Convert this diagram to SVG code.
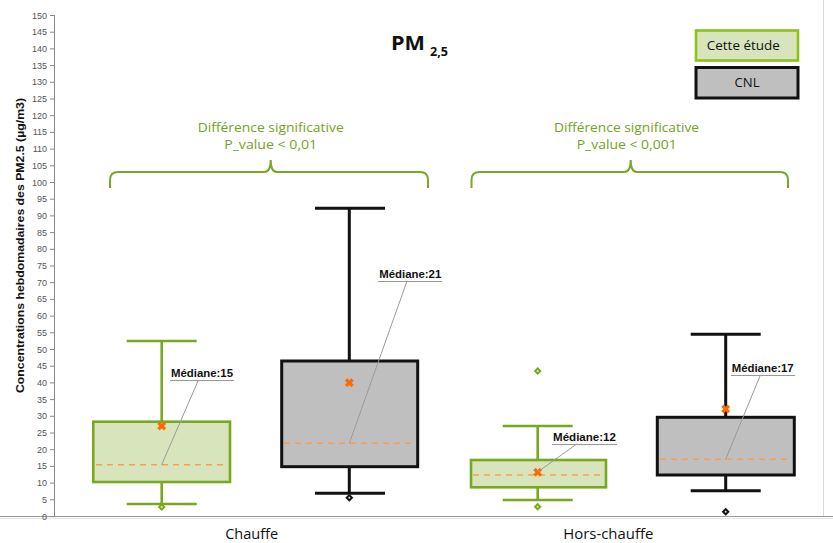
<svg xmlns="http://www.w3.org/2000/svg" width="833" height="543" viewBox="0 0 833 543">
  <style>
    .tick { font-family: "Liberation Sans", Arial, sans-serif; font-size: 9px; fill: #555; text-anchor: end; }
    .tickmark { stroke: #888; stroke-width: 1; }
    .green { stroke: #78a820; stroke-width: 2.6; fill: none; }
    .green-box { stroke: #78a820; stroke-width: 2.6; fill: #d8e4bc; }
    .black { stroke: #111; stroke-width: 3; fill: none; }
    .black-box { stroke: #111; stroke-width: 3; fill: #bfbfbf; }
    .median { stroke: #f5a055; stroke-width: 1.4; stroke-dasharray: 6 5; fill: none; }
    .leader { stroke: #9a9a9a; stroke-width: 1; fill: none; }
    .mlabel { font-family: "Liberation Sans", Arial, sans-serif; font-size: 11px; font-weight: bold; fill: #111; }
    .ul { stroke: #999; stroke-width: 1.2; }
    .sig { font-family: "Open Sans", "Liberation Sans", sans-serif; font-size: 13.5px; fill: #74a224; text-anchor: middle; }
    .brace { stroke: #79a828; stroke-width: 2; fill: none; }
    .cat { font-family: "Open Sans", "Liberation Sans", sans-serif; font-size: 14px; fill: #111; text-anchor: middle; }
    .leg { font-family: "Open Sans", "Liberation Sans", sans-serif; font-size: 13px; fill: #111; text-anchor: middle; }
  </style>
  <defs>
    <path id="mean" d="M-4.5,-2 L-2,-4.5 L0,-2.2 L2,-4.5 L4.5,-2 L2.2,0 L4.5,2 L2,4.5 L0,2.2 L-2,4.5 L-4.5,2 L-2.2,0 Z" fill="#ff6a00"/>
    <g id="out-green">
      <path d="M0,-4 L4,0 L0,4 L-4,0 Z" fill="#78a820"/>
      <circle r="1" fill="#dfeac4"/>
    </g>
    <g id="out-black">
      <path d="M0,-4 L4,0 L0,4 L-4,0 Z" fill="#111"/>
      <circle r="1" fill="#ddd"/>
    </g>
  </defs>

  <rect width="833" height="543" fill="#fff"/>

  <!-- axes and plot frame -->
  <g id="axes">
    <line x1="823.5" y1="0" x2="823.5" y2="516" stroke="#d9d9d9" stroke-width="1"/>
    <line x1="54.5" y1="15" x2="54.5" y2="516" stroke="#888" stroke-width="1"/>
    <line x1="0" y1="516.5" x2="833" y2="516.5" stroke="#999" stroke-width="1.2"/>
    <line x1="0" y1="518.5" x2="833" y2="518.5" stroke="#e6e6e6" stroke-width="1"/>
    <g class="tickmark">
      <line x1="50" y1="15.5" x2="54" y2="15.5"/><line x1="50" y1="32.2" x2="54" y2="32.2"/>
      <line x1="50" y1="48.9" x2="54" y2="48.9"/><line x1="50" y1="65.6" x2="54" y2="65.6"/>
      <line x1="50" y1="82.3" x2="54" y2="82.3"/><line x1="50" y1="99" x2="54" y2="99"/>
      <line x1="50" y1="115.7" x2="54" y2="115.7"/><line x1="50" y1="132.4" x2="54" y2="132.4"/>
      <line x1="50" y1="149.1" x2="54" y2="149.1"/><line x1="50" y1="165.8" x2="54" y2="165.8"/>
      <line x1="50" y1="182.5" x2="54" y2="182.5"/><line x1="50" y1="199.2" x2="54" y2="199.2"/>
      <line x1="50" y1="215.9" x2="54" y2="215.9"/><line x1="50" y1="232.6" x2="54" y2="232.6"/>
      <line x1="50" y1="249.3" x2="54" y2="249.3"/><line x1="50" y1="266" x2="54" y2="266"/>
      <line x1="50" y1="282.7" x2="54" y2="282.7"/><line x1="50" y1="299.4" x2="54" y2="299.4"/>
      <line x1="50" y1="316.1" x2="54" y2="316.1"/><line x1="50" y1="332.8" x2="54" y2="332.8"/>
      <line x1="50" y1="349.5" x2="54" y2="349.5"/><line x1="50" y1="366.2" x2="54" y2="366.2"/>
      <line x1="50" y1="382.9" x2="54" y2="382.9"/><line x1="50" y1="399.6" x2="54" y2="399.6"/>
      <line x1="50" y1="416.3" x2="54" y2="416.3"/><line x1="50" y1="433" x2="54" y2="433"/>
      <line x1="50" y1="449.7" x2="54" y2="449.7"/><line x1="50" y1="466.4" x2="54" y2="466.4"/>
      <line x1="50" y1="483.1" x2="54" y2="483.1"/><line x1="50" y1="499.8" x2="54" y2="499.8"/>
      <line x1="50" y1="516.5" x2="54" y2="516.5"/>
    </g>
    <g class="tick">
      <text x="47" y="18.5">150</text><text x="47" y="35.2">145</text>
      <text x="47" y="51.9">140</text><text x="47" y="68.6">135</text>
      <text x="47" y="85.3">130</text><text x="47" y="102">125</text>
      <text x="47" y="118.7">120</text><text x="47" y="135.4">115</text>
      <text x="47" y="152.1">110</text><text x="47" y="168.8">105</text>
      <text x="47" y="185.5">100</text><text x="47" y="202.2">95</text>
      <text x="47" y="218.9">90</text><text x="47" y="235.6">85</text>
      <text x="47" y="252.3">80</text><text x="47" y="269">75</text>
      <text x="47" y="285.7">70</text><text x="47" y="302.4">65</text>
      <text x="47" y="319.1">60</text><text x="47" y="335.8">55</text>
      <text x="47" y="352.5">50</text><text x="47" y="369.2">45</text>
      <text x="47" y="385.9">40</text><text x="47" y="402.6">35</text>
      <text x="47" y="419.3">30</text><text x="47" y="436">25</text>
      <text x="47" y="452.7">20</text><text x="47" y="469.4">15</text>
      <text x="47" y="486.1">10</text><text x="47" y="502.8">5</text>
      <text x="47" y="519.5">0</text>
    </g>
    <text transform="translate(24,245.5) rotate(-90)" text-anchor="middle" font-family="Liberation Sans, Arial, sans-serif" font-size="11" font-weight="bold" fill="#111" textLength="295" lengthAdjust="spacingAndGlyphs">Concentrations hebdomadaires des PM2.5 (µg/m3)</text>
    <text class="cat" x="251.7" y="539" textLength="53" lengthAdjust="spacingAndGlyphs">Chauffe</text>
    <text class="cat" x="608.3" y="539" textLength="90" lengthAdjust="spacingAndGlyphs">Hors-chauffe</text>
  </g>

  <!-- title -->
  <g id="title" font-family="Open Sans, Liberation Sans, sans-serif" font-weight="bold" fill="#111">
    <text x="391" y="50" font-size="20" textLength="34" lengthAdjust="spacingAndGlyphs">PM</text>
    <text x="430" y="56" font-size="12.5" textLength="18" lengthAdjust="spacingAndGlyphs">2,5</text>
  </g>

  <!-- legend -->
  <g id="legend">
    <g id="legend-etude">
      <rect x="696" y="30.5" width="102" height="30" fill="#d8e4bc" stroke="#8cc21c" stroke-width="2.6"/>
      <text class="leg" x="743.3" y="50" textLength="73" lengthAdjust="spacingAndGlyphs">Cette étude</text>
    </g>
    <g id="legend-cnl">
      <rect x="696" y="67.5" width="102" height="30.5" class="black-box"/>
      <text class="leg" x="747" y="87" textLength="25" lengthAdjust="spacingAndGlyphs">CNL</text>
    </g>
  </g>

  <!-- significance braces -->
  <g id="sig-chauffe">
    <text class="sig" x="270.7" y="132" textLength="146" lengthAdjust="spacingAndGlyphs">Différence significative</text>
    <text class="sig" x="270.7" y="149" textLength="93" lengthAdjust="spacingAndGlyphs">P_value &lt; 0,01</text>
    <path class="brace" d="M110,188 L110,180 Q110,172 118,172 L264,172 Q270.7,172 270.7,160 Q270.7,172 277,172 L420,172 Q428,172 428,180 L428,188"/>
  </g>
  <g id="sig-hors">
    <text class="sig" x="626.5" y="132" textLength="145" lengthAdjust="spacingAndGlyphs">Différence significative</text>
    <text class="sig" x="626.7" y="149" textLength="100" lengthAdjust="spacingAndGlyphs">P_value &lt; 0,001</text>
    <path class="brace" d="M471.5,188 L471.5,180 Q471.5,172 479.5,172 L624,172 Q630.7,172 630.7,160 Q630.7,172 637,172 L780,172 Q788,172 788,180 L788,188"/>
  </g>

  <!-- boxes -->
  <g id="box-chauffe-etude">
    <line class="green" x1="161.7" y1="341" x2="161.7" y2="421.7"/>
    <line class="green" x1="161.7" y1="482" x2="161.7" y2="504"/>
    <line class="green" x1="126.7" y1="341" x2="196.7" y2="341"/>
    <line class="green" x1="126.7" y1="504" x2="196.7" y2="504"/>
    <rect class="green-box" x="93.3" y="421.7" width="136.7" height="60.3"/>
    <line class="median" x1="96" y1="464.7" x2="228" y2="464.7"/>
    <use href="#mean" x="161.7" y="426"/>
    <use href="#out-green" x="161.7" y="507"/>
  </g>
  <g id="box-chauffe-cnl">
    <line class="black" x1="349.3" y1="208.3" x2="349.3" y2="361"/>
    <line class="black" x1="349.3" y1="466.7" x2="349.3" y2="493.3"/>
    <line class="black" x1="315" y1="208.3" x2="385" y2="208.3"/>
    <line class="black" x1="315" y1="493.3" x2="385" y2="493.3"/>
    <rect class="black-box" x="281.7" y="361" width="136" height="105.7"/>
    <line class="median" x1="284" y1="443.3" x2="415" y2="443.3"/>
    <use href="#mean" x="349.3" y="382.7"/>
    <use href="#out-black" x="349.3" y="497.7"/>
  </g>
  <g id="box-hors-etude">
    <line class="green" x1="537.7" y1="426" x2="537.7" y2="460"/>
    <line class="green" x1="537.7" y1="487.3" x2="537.7" y2="500"/>
    <line class="green" x1="502.7" y1="426" x2="572.7" y2="426"/>
    <line class="green" x1="502.7" y1="500" x2="572.7" y2="500"/>
    <rect class="green-box" x="471" y="460" width="135" height="27.3"/>
    <line class="median" x1="473" y1="475" x2="604" y2="475"/>
    <use href="#mean" x="537.7" y="472.3"/>
    <use href="#out-green" x="537.7" y="371"/>
    <use href="#out-green" x="537.7" y="506.7"/>
  </g>
  <g id="box-hors-cnl">
    <line class="black" x1="725.7" y1="334.3" x2="725.7" y2="417.3"/>
    <line class="black" x1="725.7" y1="475" x2="725.7" y2="490.7"/>
    <line class="black" x1="690.7" y1="334.3" x2="760.7" y2="334.3"/>
    <line class="black" x1="690.7" y1="490.7" x2="760.7" y2="490.7"/>
    <rect class="black-box" x="657.3" y="417.3" width="137" height="57.7"/>
    <line class="median" x1="660" y1="459.3" x2="792" y2="459.3"/>
    <use href="#mean" x="725.7" y="409"/>
    <use href="#out-black" x="725.7" y="511.7"/>
  </g>

  <!-- median label leader lines -->
  <g id="connectors">
    <line class="leader" x1="198" y1="381" x2="161.7" y2="464.7"/>
    <line class="leader" x1="406.7" y1="282" x2="349.3" y2="443.3"/>
    <line class="leader" x1="576.7" y1="444" x2="537.7" y2="472"/>
    <line class="leader" x1="760" y1="376" x2="725.7" y2="459.3"/>
  </g>

  <!-- median labels -->
  <g id="label-chauffe-etude">
    <line class="ul" x1="170" y1="380.5" x2="234" y2="380.5"/>
    <text class="mlabel" x="171" y="377" textLength="62" lengthAdjust="spacingAndGlyphs">Médiane:15</text>
  </g>
  <g id="label-chauffe-cnl">
    <line class="ul" x1="378" y1="281.5" x2="442" y2="281.5"/>
    <text class="mlabel" x="379.3" y="278" textLength="62" lengthAdjust="spacingAndGlyphs">Médiane:21</text>
  </g>
  <g id="label-hors-etude">
    <line class="ul" x1="552" y1="444.5" x2="617" y2="444.5"/>
    <text class="mlabel" x="553" y="441" textLength="63" lengthAdjust="spacingAndGlyphs">Médiane:12</text>
  </g>
  <g id="label-hors-cnl">
    <line class="ul" x1="731" y1="375.5" x2="795" y2="375.5"/>
    <text class="mlabel" x="731.7" y="372" textLength="62" lengthAdjust="spacingAndGlyphs">Médiane:17</text>
  </g>
</svg>
